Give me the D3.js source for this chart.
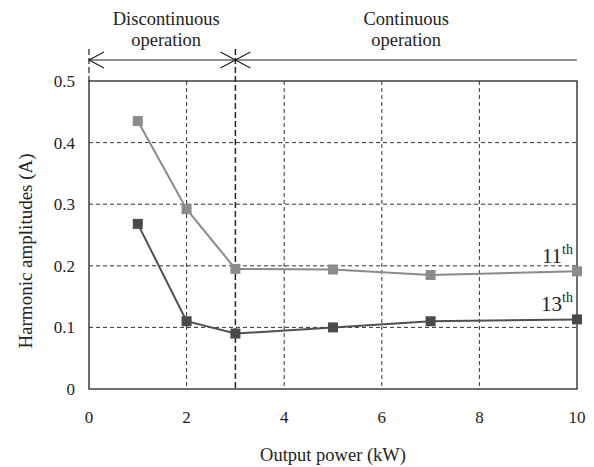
<!DOCTYPE html>
<html>
<head>
<meta charset="utf-8">
<script src="https://cdn.jsdelivr.net/npm/d3@7"></script>
<style>
  body { margin: 0; background: #fff; }
</style>
</head>
<body>
<svg id="chart" width="594" height="467"></svg>
<script>
const power = [1, 2, 3, 5, 7, 10]
const h11 = [0.435, 0.292, 0.195, 0.194, 0.185, 0.191]
const h13 = [0.268, 0.11, 0.09, 0.1, 0.11, 0.113]
const xTicks = [0, 2, 4, 6, 8, 10]
const yTicks = [0, 0.1, 0.2, 0.3, 0.4, 0.5]
const boundary = 3

const margin = {top: 81, right: 17, bottom: 78, left: 89}
const width = 594 - margin.left - margin.right,
    height = 467 - margin.top - margin.bottom
const serif = "'Liberation Serif', 'Times New Roman', serif"

const svg = d3.select("#chart")
const g = svg.append("g").attr("transform", "translate(" + margin.left + "," + margin.top + ")")

const x = d3.scaleLinear().domain([0, 10]).range([0, width])
const y = d3.scaleLinear().domain([0, 0.5]).range([height, 0])

// grid
g.selectAll(".hgrid").data(yTicks.filter(d => d > 0 && d < 0.5)).enter()
    .append("line")
    .attr("x1", 0).attr("x2", width)
    .attr("y1", d => y(d)).attr("y2", d => y(d))
    .attr("stroke", "#333").attr("stroke-width", 1).attr("stroke-dasharray", "4,3")

g.selectAll(".vgrid").data(xTicks.filter(d => d > 0 && d < 10)).enter()
    .append("line")
    .attr("x1", d => x(d)).attr("x2", d => x(d))
    .attr("y1", 0).attr("y2", height)
    .attr("stroke", "#333").attr("stroke-width", 1).attr("stroke-dasharray", "4,3")

// boundary dashed lines extending above plot
g.append("line")
    .attr("x1", x(boundary)).attr("x2", x(boundary))
    .attr("y1", -32).attr("y2", height)
    .attr("stroke", "#222").attr("stroke-width", 1.5).attr("stroke-dasharray", "6,3")
g.append("line")
    .attr("x1", x(0)).attr("x2", x(0))
    .attr("y1", -32).attr("y2", 0)
    .attr("stroke", "#222").attr("stroke-width", 1.2).attr("stroke-dasharray", "6,3")

// frame
g.append("rect").attr("x", 0).attr("y", 0).attr("width", width).attr("height", height)
    .attr("fill", "none").attr("stroke", "#222").attr("stroke-width", 1.3)

// region arrows
const ay = -21
const arrow = (px, dir) => {
    g.append("path")
        .attr("d", "M" + (px + dir * 15) + "," + (ay - 8) + "L" + px + "," + ay + "L" + (px + dir * 15) + "," + (ay + 8))
        .attr("fill", "none").attr("stroke", "#222").attr("stroke-width", 1.2)
}
g.append("line").attr("x1", x(0)).attr("x2", x(10)).attr("y1", ay).attr("y2", ay)
    .attr("stroke", "#222").attr("stroke-width", 1.2)
arrow(x(0), 1)
arrow(x(boundary), -1)
arrow(x(boundary), 1)

const regionText = [
    {cx: (x(0) + x(boundary)) / 2 + 4, lines: ["Discontinuous", "operation"]},
    {cx: (x(boundary) + x(10)) / 2, lines: ["Continuous", "operation"]}
]
regionText.forEach(r => {
    r.lines.forEach((t, i) => {
        g.append("text").attr("x", r.cx).attr("y", -56 + i * 21)
            .attr("text-anchor", "middle").attr("font-family", serif)
            .attr("font-size", 18.5).attr("fill", "#222").text(t)
    })
})

// axes labels
g.selectAll(".ylab").data(yTicks).enter().append("text")
    .attr("x", -14).attr("y", d => y(d) + 6)
    .attr("text-anchor", "end").attr("font-family", serif).attr("font-size", 17).attr("fill", "#222")
    .text(d => d === 0 ? "0" : d3.format(".1f")(d))

g.selectAll(".xlab").data(xTicks).enter().append("text")
    .attr("x", d => x(d)).attr("y", height + 34)
    .attr("text-anchor", "middle").attr("font-family", serif).attr("font-size", 17).attr("fill", "#222")
    .text(d => d)

g.append("text").attr("x", width / 2).attr("y", height + 72)
    .attr("text-anchor", "middle").attr("font-family", serif).attr("font-size", 18.5).attr("fill", "#222")
    .text("Output power (kW)")

g.append("text")
    .attr("transform", "translate(" + (-57) + "," + (height / 2 + 16) + ") rotate(-90)")
    .attr("text-anchor", "middle").attr("font-family", serif).attr("font-size", 19).attr("fill", "#222")
    .text("Harmonic amplitudes (A)")

// series
const series = [
    {name: "11", values: h11, line: "#8a8a8a", mark: "#8c8c8c"},
    {name: "13", values: h13, line: "#505050", mark: "#4a4a4a"}
]
const line = d3.line().x(d => x(d[0])).y(d => y(d[1]))

series.forEach(s => {
    const pts = power.map((p, i) => [p, s.values[i]])
    g.append("path").datum(pts).attr("d", line)
        .attr("fill", "none").attr("stroke", s.line).attr("stroke-width", 2)
    g.selectAll(".m" + s.name).data(pts).enter().append("rect")
        .attr("x", d => x(d[0]) - 5).attr("y", d => y(d[1]) - 5)
        .attr("width", 10).attr("height", 10).attr("fill", s.mark)
    const last = pts[pts.length - 1]
    const lab = g.append("text").attr("x", x(10) - 4).attr("y", y(last[1]) - 8)
        .attr("text-anchor", "end").attr("font-family", serif).attr("font-size", 21).attr("fill", "#222")
    lab.append("tspan").text(s.name)
    lab.append("tspan").attr("dy", -9).attr("font-size", 14).text("th")
})
</script>
</body>
</html>
